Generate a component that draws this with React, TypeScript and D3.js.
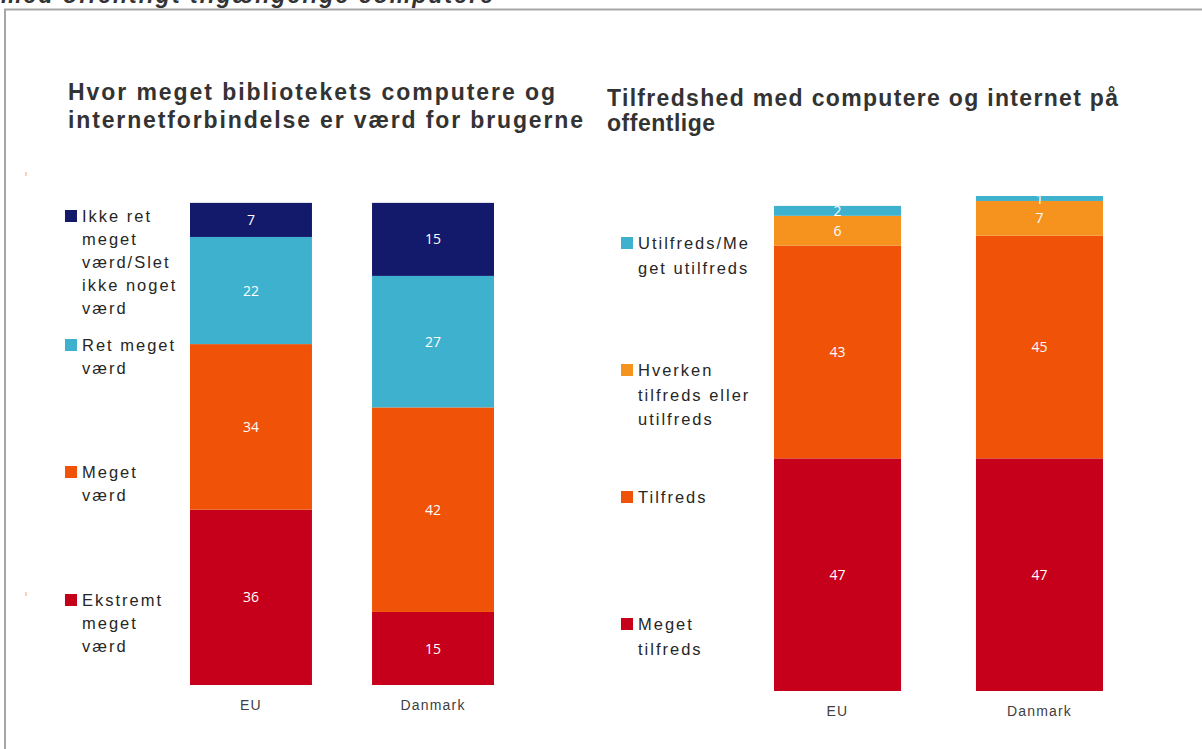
import React from "react";
import * as d3 from "d3";

// ---------- data ----------
const categories = ["EU", "Danmark"];

// Left chart: Hvor meget bibliotekets computere ... er værd
const leftKeys = ["ekstremt", "meget", "ret", "ikke"];
const leftEkstremt = [36, 15];
const leftMeget = [34, 42];
const leftRet = [22, 27];
const leftIkke = [7, 15];
const leftLegendLines: Record<string, string[]> = {
  ikke: ["Ikke ret", "meget", "værd/Slet", "ikke noget", "værd"],
  ret: ["Ret meget", "værd"],
  meget: ["Meget", "værd"],
  ekstremt: ["Ekstremt", "meget", "værd"],
};

// Right chart: Tilfredshed med computere og internet
const rightKeys = ["megetTilfreds", "tilfreds", "hverken", "utilfreds"];
const rightMegetTilfreds = [47, 47];
const rightTilfreds = [43, 45];
const rightHverken = [6, 7];
const rightUtilfreds = [2, 1];
const rightLegendLines: Record<string, string[]> = {
  utilfreds: ["Utilfreds/Me", "get utilfreds"],
  hverken: ["Hverken", "tilfreds eller", "utilfreds"],
  tilfreds: ["Tilfreds"],
  megetTilfreds: ["Meget", "tilfreds"],
};

const topTitle = "med offentligt tilgængelige computere";
const leftTitle = ["Hvor meget bibliotekets computere og", "internetforbindelse er værd for brugerne"];
const rightTitle = ["Tilfredshed med computere og internet på", "offentlige"];

const colors: Record<string, string> = {
  ikke: "#141a6b",
  ret: "#3db1cd",
  meget: "#f05208",
  ekstremt: "#c6001a",
  utilfreds: "#3db1cd",
  hverken: "#f6931f",
  tilfreds: "#f05208",
  megetTilfreds: "#c6001a",
};

const leftRows = categories.map((c, i) => ({
  cat: c,
  ekstremt: leftEkstremt[i],
  meget: leftMeget[i],
  ret: leftRet[i],
  ikke: leftIkke[i],
}));
const rightRows = categories.map((c, i) => ({
  cat: c,
  megetTilfreds: rightMegetTilfreds[i],
  tilfreds: rightTilfreds[i],
  hverken: rightHverken[i],
  utilfreds: rightUtilfreds[i],
}));

const labelFont = "'Liberation Sans', Arial, sans-serif";
const valueFont = "'Open Sans', 'DejaVu Sans', sans-serif";

function Bars({ rows, keys, x, y }: any) {
  const series = d3.stack<any>().keys(keys)(rows);
  return (
    <g>
      {series.map((s: any) =>
        s.map((d: any, i: number) => {
          const v = d[1] - d[0];
          const cx = (x(rows[i].cat) as number) + x.bandwidth() / 2;
          const y0 = y(d[0]);
          const y1 = y(d[1]);
          return (
            <g key={s.key + i}>
              <rect x={x(rows[i].cat)} y={y1} width={x.bandwidth()} height={y0 - y1} fill={colors[s.key]} />
              <text
                x={cx}
                y={(y0 + y1) / 2}
                dy="0.36em"
                textAnchor="middle"
                fill="#ffffff"
                fontFamily={valueFont}
                fontSize={14}
              >
                {v}
              </text>
            </g>
          );
        })
      )}
      {rows.map((r: any) => (
        <text
          key={r.cat}
          x={(x(r.cat) as number) + x.bandwidth() / 2}
          y={y(0) + 25}
          textAnchor="middle"
          fill="#404040"
          fontFamily={labelFont}
          fontSize={14}
          letterSpacing={1.2}
        >
          {r.cat}
        </text>
      ))}
    </g>
  );
}

function Legend({ items, x, lineH }: any) {
  return (
    <g>
      {items.map((it: any) => (
        <g key={it.key}>
          <rect x={x} y={it.y} width={12} height={12} fill={colors[it.key]} />
          {it.lines.map((l: string, j: number) => (
            <text
              key={j}
              x={x + 17}
              y={it.y + 12 + j * lineH}
              fill="#262626"
              fontFamily={labelFont}
              fontSize={16.5}
              letterSpacing={2}
            >
              {l}
            </text>
          ))}
        </g>
      ))}
    </g>
  );
}

export default function App() {
  const W = 1202;
  const H = 749;

  const xLeft = d3.scaleBand().domain(categories).range([190, 494]).paddingInner(0.33);
  const yLeft = d3.scaleLinear().domain([0, 100]).range([685, 198]);
  const xRight = d3.scaleBand().domain(categories).range([774, 1103]).paddingInner(0.371);
  const yRight = d3.scaleLinear().domain([0, 100]).range([691, 196]);

  const leftLegendItems = [
    { key: "ikke", y: 210, lines: leftLegendLines.ikke },
    { key: "ret", y: 339, lines: leftLegendLines.ret },
    { key: "meget", y: 466, lines: leftLegendLines.meget },
    { key: "ekstremt", y: 594, lines: leftLegendLines.ekstremt },
  ];
  const rightLegendItems = [
    { key: "utilfreds", y: 237, lines: rightLegendLines.utilfreds },
    { key: "hverken", y: 364, lines: rightLegendLines.hverken },
    { key: "tilfreds", y: 491, lines: rightLegendLines.tilfreds },
    { key: "megetTilfreds", y: 618, lines: rightLegendLines.megetTilfreds },
  ];

  return (
    <>
      <style>{"body{margin:0;background:#fff}"}</style>
      <svg width={W} height={H} style={{ display: "block" }}>
        <rect x={0} y={0} width={W} height={H} fill="#ffffff" />
        <text
          x={1}
          y={3}
          fill="#333333"
          fontFamily={labelFont}
          fontWeight="bold"
          fontStyle="italic"
          fontSize={23}
          textLength={492}
          lengthAdjust="spacing"
        >
          {topTitle}
        </text>
        <rect x={5} y={9.5} width={1300} height={900} fill="none" stroke="#a6a6a6" strokeWidth={2} />

        {leftTitle.map((t, i) => (
          <text
            key={i}
            x={68}
            y={100 + i * 28}
            fill="#333333"
            fontFamily={labelFont}
            fontWeight="bold"
            fontSize={23}
            textLength={i === 0 ? 487 : 515}
            lengthAdjust="spacing"
          >
            {t}
          </text>
        ))}
        {rightTitle.map((t, i) => (
          <text
            key={i}
            x={607}
            y={106 + i * 25}
            fill="#333333"
            fontFamily={labelFont}
            fontWeight="bold"
            fontSize={23}
            textLength={i === 0 ? 511 : 108}
            lengthAdjust="spacing"
          >
            {t}
          </text>
        ))}

        <rect x={25.5} y={172} width={1} height={4} fill="#f4a27e" />
        <rect x={25.5} y={592} width={1} height={4} fill="#f4a27e" />

        <Legend items={leftLegendItems} x={65} lineH={23} />
        <Legend items={rightLegendItems} x={621} lineH={24.5} />

        <Bars rows={leftRows} keys={leftKeys} x={xLeft} y={yLeft} />
        <Bars rows={rightRows} keys={rightKeys} x={xRight} y={yRight} />
      </svg>
    </>
  );
}
